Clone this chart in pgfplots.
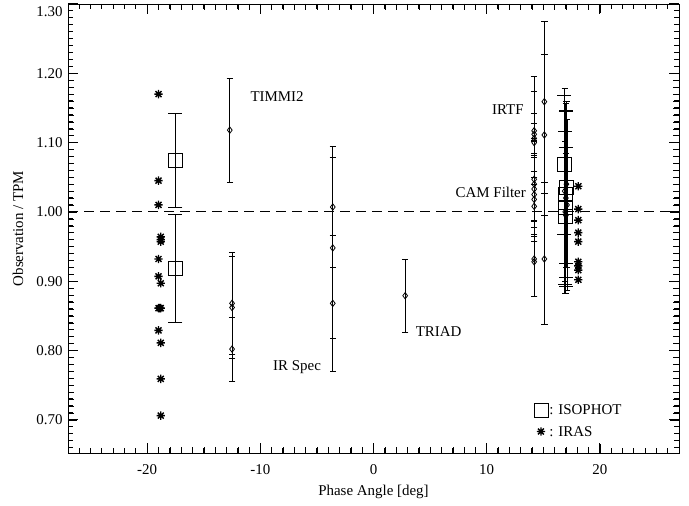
\documentclass[border=0pt]{standalone}
\usepackage{pgfplots}
\pgfplotsset{compat=1.18}
\usetikzlibrary{calc}
\usepackage{fontspec}
\setmainfont{Liberation Serif}
\pgfdeclareplotmark{ast8}{%
 \pgfpathmoveto{\pgfqpoint{-\pgfplotmarksize}{0pt}}\pgfpathlineto{\pgfqpoint{\pgfplotmarksize}{0pt}}%
 \pgfpathmoveto{\pgfqpoint{0pt}{-\pgfplotmarksize}}\pgfpathlineto{\pgfqpoint{0pt}{\pgfplotmarksize}}%
 \pgfpathmoveto{\pgfqpoint{-.707\pgfplotmarksize}{-.707\pgfplotmarksize}}\pgfpathlineto{\pgfqpoint{.707\pgfplotmarksize}{.707\pgfplotmarksize}}%
 \pgfpathmoveto{\pgfqpoint{-.707\pgfplotmarksize}{.707\pgfplotmarksize}}\pgfpathlineto{\pgfqpoint{.707\pgfplotmarksize}{-.707\pgfplotmarksize}}%
 \pgfusepathqstroke}
\begin{document}
\fontsize{7.5}{9}\selectfont
\begin{tikzpicture}
\begin{axis}[name=ax, scale only axis, width=305.5bp, height=224.5bp,
 xmin=-27, xmax=27, ymin=0.652, ymax=1.30,
 xtick={-20,-10,0,10,20}, minor x tick num=9,
 ytick={0.7,0.8,0.9,1.0,1.1,1.2}, minor y tick num=9,
 extra y ticks={1.3},
 extra y tick style={yticklabel style={yshift=-4bp}},
 tick style={black},
 /pgf/number format/assume math mode=true,
 yticklabel style={/pgf/number format/fixed, /pgf/number format/fixed zerofill, /pgf/number format/precision=2},
 xticklabel style={yshift=-3bp, /pgf/number format/fixed, /pgf/number format/precision=0},
 font=\fontsize{7.5}{9}\selectfont,
 xlabel={Phase Angle [deg]}, ylabel={Observation / TPM},
 x label style={at={(axis description cs:0.5,-0.087)}, anchor=center},
 y label style={at={(axis description cs:-0.082,0.5)}, anchor=center},
]
% reference line
\addplot[black, line width=0.5bp, dash pattern=on 5bp off 3bp] coordinates {(-27,1) (27,1)};

% IRAS left
\addplot[only marks, mark=ast8, mark size=2.1bp, line width=0.7bp, black] coordinates {
(-19.0,1.170) (-19.0,1.045) (-19.0,1.010) (-18.8,0.964) (-18.8,0.960) (-18.8,0.957)
(-19.0,0.932) (-19.0,0.907) (-18.8,0.897) (-19.0,0.861) (-18.9,0.861) (-18.8,0.861)
(-19.0,0.829) (-18.8,0.811) (-18.8,0.759) (-18.8,0.706)};
% IRAS right
\addplot[only marks, mark=ast8, mark size=2.1bp, line width=0.7bp, black] coordinates {
(18.1,1.037) (18.1,1.004) (18.1,0.988) (18.1,0.970) (18.1,0.957)
(18.1,0.928) (18.1,0.922) (18.1,0.916) (18.1,0.902)};

% TIMMI2
\addplot[black, mark=diamond, mark size=1.6bp, draw=none,
 error bars/.cd, y dir=both, y explicit, error mark=-] table[x=x, y=y, y error=e] {
x y e
-12.7 1.118 0.075
-12.5 0.868 0.073
-12.5 0.862 0.074
-12.5 0.802 0.046
};
% IR Spec
\addplot[black, mark=diamond, mark size=1.6bp, draw=none,
 error bars/.cd, y dir=both, y explicit, error mark=-] table[x=x, y=y, y error=e] {
x y e
-3.6 1.007 0.087
-3.6 0.948 0.130
-3.6 0.868 0.098
};
% TRIAD
\addplot[black, mark=diamond, mark size=1.6bp, draw=none,
 error bars/.cd, y dir=both, y explicit, error mark=-] table[x=x, y=y, y error=e] {
x y e
2.8 0.879 0.053
};
% IRTF
\addplot[black, mark=diamond, mark size=1.6bp, draw=none,
 error bars/.cd, y dir=both, y explicit, error mark=-] table[x=x, y=y, y error=e] {
x y e
14.2 1.117 0.078
14.2 1.112 0.062
14.2 1.106 0.022
14.2 1.100 0.042
14.2 1.047 0.059
14.2 1.040 0.063
14.2 1.033 0.069
14.2 1.025 0.057
14.2 1.018 0.060
14.2 1.008 0.050
14.2 0.932 0.054
14.2 0.928 0.050
15.1 1.159 0.116
15.1 1.111 0.116
15.1 0.932 0.094
};
% CAM Filter
\addplot[black, mark=diamond, mark size=1.6bp, draw=none,
 error bars/.cd, y dir=both, y explicit, error mark=-] table[x=x, y=y, y error=e] {
x y e
16.9 1.030 0.148
17.0 1.020 0.137
17.1 1.010 0.123
16.95 1.000 0.101
17.05 1.040 0.120
17.0 0.995 0.090
};
% ISOPHOT
\addplot[black, mark=square, mark size=3.5bp, draw=none,
 error bars/.cd, y dir=both, y explicit, error mark=-] table[x=x, y=y, y error=e] {
x y e
-17.5 1.074 0.068
-17.5 0.919 0.078
16.85 1.068 0.100
17.05 1.036 0.110
17.0 1.025 0.120
16.95 1.006 0.110
17.0 0.993 0.100
};

% legend
\addplot[only marks, mark=square, mark size=3.5bp, black] coordinates {(14.8,0.714)};
\addplot[only marks, mark=ast8, mark size=2.1bp, line width=0.7bp, black] coordinates {(14.8,0.683)};
\node[anchor=west, inner sep=0pt] at (axis cs:15.5,0.714) {: ISOPHOT};
\node[anchor=west, inner sep=0pt] at (axis cs:15.5,0.683) {: IRAS};

% annotations
\node[anchor=west, inner sep=0pt] at (axis cs:-10.9,1.167) {TIMMI2};
\node[anchor=west, inner sep=0pt] at (axis cs:-8.9,0.776) {IR Spec};
\node[anchor=west, inner sep=0pt] at (axis cs:3.7,0.827) {TRIAD};
\node[anchor=east, inner sep=0pt] at (axis cs:13.3,1.147) {IRTF};
\node[anchor=east, inner sep=0pt] at (axis cs:13.5,1.028) {CAM Filter};
\end{axis}
% tick marks on all four sides of the frame
\foreach \i in {-26,...,26}{
  \pgfmathsetmacro\f{(\i+27)/54}
  \pgfmathsetmacro\len{ifthenelse(mod(\i,10)==0,5,2.5)}
  \draw[black, line width=0.5bp] ($(ax.south west)!\f!(ax.south east)$) -- ++(0,\len bp);
  \draw[black, line width=0.5bp] ($(ax.north west)!\f!(ax.north east)$) -- ++(0,-\len bp);
}
\foreach \j in {66,...,130}{
  \pgfmathsetmacro\f{(\j/100-0.652)/0.648}
  \pgfmathsetmacro\len{ifthenelse(mod(\j,10)==0,5,2.5)}
  \draw[black, line width=0.5bp] ($(ax.south west)!\f!(ax.north west)$) -- ++(\len bp,0);
  \draw[black, line width=0.5bp] ($(ax.south east)!\f!(ax.north east)$) -- ++(-\len bp,0);
}
\pgfresetboundingbox
\path ([shift={(-34bp,-26.5bp)}]ax.south west) rectangle ([shift={(5bp,2bp)}]ax.north east);
\end{tikzpicture}
\end{document}
